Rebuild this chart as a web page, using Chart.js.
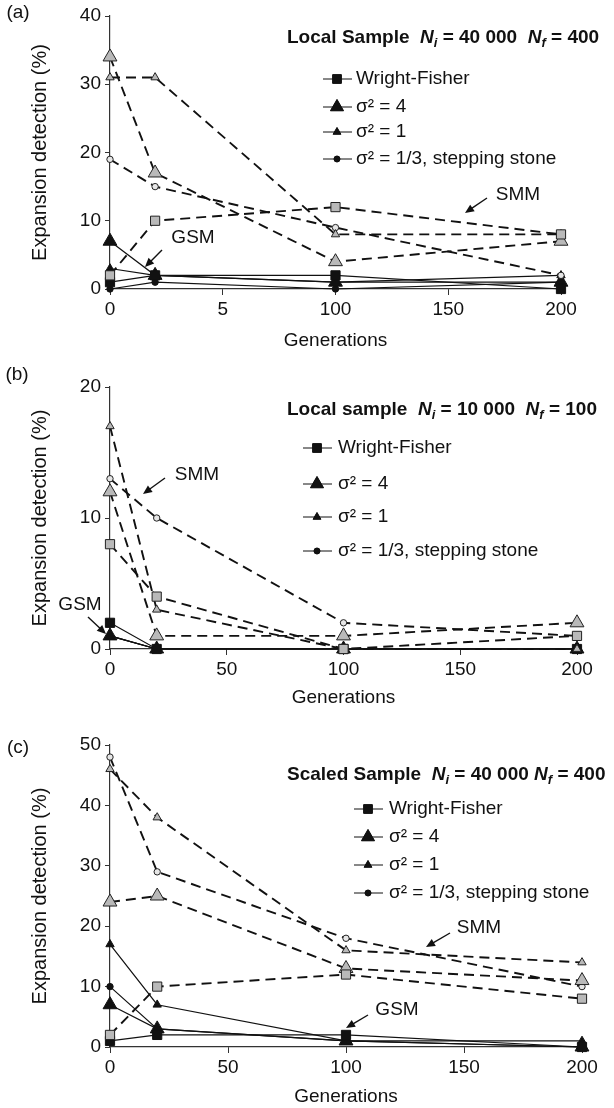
<!DOCTYPE html>
<html>
<head>
<meta charset="utf-8">
<script src="https://cdn.jsdelivr.net/npm/chart.js@4.4.1/dist/chart.umd.min.js"></script>
<style>
  html, body { margin: 0; padding: 0; background: #fff; }
  .panel { position: absolute; left: 0; width: 614px; }
</style>
</head>
<body>
<div class="panel" style="top:0;height:352px"><canvas id="chartA"></canvas></div>
<div class="panel" style="top:352px;height:357px"><canvas id="chartB"></canvas></div>
<div class="panel" style="top:709px;height:399px"><canvas id="chartC"></canvas></div>
<script>
// ======================= DATA =======================

const generations = [0, 20, 100, 200];
const legendLabels = ['Wright-Fisher', 'σ² = 4', 'σ² = 1', 'σ² = 1/3, stepping stone'];

// (a) local sample, Ni = 40 000, Nf = 400
const aWfGsm = [1, 2, 2, 0];
const aS4Gsm = [7, 2, 1, 1];
const aS1Gsm = [3, 2, 1, 2];
const aS13Gsm = [0, 1, 0, 1];
const aWfSmm = [2, 10, 12, 8];
const aS4Smm = [34, 17, 4, 7];
const aS1Smm = [31, 31, 8, 8];
const aS13Smm = [19, 15, 9, 2];

// (b) local sample, Ni = 10 000, Nf = 100
const bWfGsm = [2, 0, 0, 0];
const bS4Gsm = [1, 0, 0, 0];
const bS1Gsm = [1, 0, 0, 0];
const bS13Gsm = [1, 0, 0, 0];
const bWfSmm = [8, 4, 0, 1];
const bS4Smm = [12, 1, 1, 2];
const bS1Smm = [17, 3, 0, 0];
const bS13Smm = [13, 10, 2, 1];

// (c) scaled sample, Ni = 40 000, Nf = 400
const cWfGsm = [1, 2, 2, 0];
const cS4Gsm = [7, 3, 1, 0];
const cS1Gsm = [17, 7, 1, 1];
const cS13Gsm = [10, 3, 1, 0];
const cWfSmm = [2, 10, 12, 8];
const cS4Smm = [24, 25, 13, 11];
const cS1Smm = [46, 38, 16, 14];
const cS13Smm = [48, 29, 18, 10];

// ======================= STYLE =======================

const FONT = '"Liberation Sans", Arial, sans-serif';
const textColor = '#111';
const axisColor = '#333';

const markers = {
  wf: { pointStyle: 'rect', radius: 6.5 },
  s4: { pointStyle: 'triangle', radius: 8 },
  s1: { pointStyle: 'triangle', radius: 4.8 },
  s13: { pointStyle: 'circle', radius: 3.2 }
};
const markerOrder = ['wf', 's4', 's1', 's13'];

function toPoints(values) {
  return values.map((v, i) => ({ x: generations[i], y: v }));
}

function gsmSeries(values, key) {
  const m = markers[key];
  return {
    data: toPoints(values),
    borderColor: '#111',
    borderWidth: 1.2,
    pointStyle: m.pointStyle,
    pointRadius: m.radius,
    pointBackgroundColor: '#111',
    pointBorderColor: '#111',
    pointBorderWidth: 1,
    clip: false
  };
}

function smmSeries(values, key) {
  const m = markers[key];
  return {
    data: toPoints(values),
    borderColor: '#111',
    borderWidth: 1.9,
    borderDash: [10, 6],
    pointStyle: m.pointStyle,
    pointRadius: m.radius,
    pointBackgroundColor: key === 's13' ? '#e6e6e6' : '#b9b9b9',
    pointBorderColor: '#222',
    pointBorderWidth: 1,
    clip: false
  };
}

// ======================= DECORATION PLUGIN =======================

function drawArrow(ctx, x1, y1, x2, y2) {
  const ang = Math.atan2(y2 - y1, x2 - x1);
  const len = 9, half = 4;
  ctx.save();
  ctx.strokeStyle = '#111';
  ctx.fillStyle = '#111';
  ctx.lineWidth = 1.4;
  ctx.beginPath();
  ctx.moveTo(x1, y1);
  ctx.lineTo(x2 - Math.cos(ang) * len * 0.8, y2 - Math.sin(ang) * len * 0.8);
  ctx.stroke();
  ctx.beginPath();
  ctx.moveTo(x2, y2);
  ctx.lineTo(x2 - Math.cos(ang) * len + Math.sin(ang) * half, y2 - Math.sin(ang) * len - Math.cos(ang) * half);
  ctx.lineTo(x2 - Math.cos(ang) * len - Math.sin(ang) * half, y2 - Math.sin(ang) * len + Math.cos(ang) * half);
  ctx.closePath();
  ctx.fill();
  ctx.restore();
}

const decorPlugin = {
  id: 'decor',
  afterDraw(chart, args, opts) {
    const ctx = chart.ctx;
    ctx.save();
    ctx.fillStyle = textColor;
    ctx.textBaseline = 'middle';

    // panel letter
    ctx.font = '19px ' + FONT;
    ctx.textAlign = 'center';
    ctx.fillText(opts.letter, opts.letterPos[0], opts.letterPos[1]);

    // title with sub-scripted N
    ctx.textAlign = 'left';
    let x = opts.titlePos[0];
    opts.title.forEach(p => {
      ctx.font = p.f + ' ' + FONT;
      ctx.fillText(p.t, x, opts.titlePos[1] + (p.dy || 0));
      x += ctx.measureText(p.t).width;
    });

    // legend
    const lg = opts.legend;
    lg.rows.forEach((y, i) => {
      const m = markers[markerOrder[i]];
      ctx.strokeStyle = '#111';
      ctx.lineWidth = 1;
      ctx.beginPath();
      ctx.moveTo(lg.x, y);
      ctx.lineTo(lg.x + 29, y);
      ctx.stroke();
      ctx.fillStyle = '#111';
      Chart.helpers.drawPoint(ctx, {
        pointStyle: m.pointStyle,
        radius: m.radius * 0.95,
        rotation: 0,
        borderWidth: 1
      }, lg.x + 14, y);
      ctx.fill();
      ctx.fillStyle = textColor;
      ctx.font = '19px ' + FONT;
      ctx.fillText(legendLabels[i], lg.x + lg.gap, y);
    });

    // SMM / GSM annotations
    ctx.textAlign = 'center';
    opts.notes.forEach(n => {
      ctx.font = '19px ' + FONT;
      ctx.fillStyle = textColor;
      ctx.fillText(n.text, n.pos[0], n.pos[1]);
      drawArrow(ctx, n.arrow[0], n.arrow[1], n.arrow[2], n.arrow[3]);
    });
    ctx.restore();
  }
};

// ======================= CHART BUILDER =======================

function renderPanel(canvasId, sets, yMax, area, decor, xLabel) {
  const ctx = document.getElementById(canvasId);
  if (!ctx) {
    console.warn(`Canvas element ${canvasId} not found`);
    return null;
  }
  const tickFont = { family: FONT, size: 19 };
  return new Chart(ctx, {
    type: 'line',
    data: {
      datasets: [
        smmSeries(sets.smm[0], 'wf'),
        smmSeries(sets.smm[1], 's4'),
        smmSeries(sets.smm[2], 's1'),
        smmSeries(sets.smm[3], 's13'),
        gsmSeries(sets.gsm[0], 'wf'),
        gsmSeries(sets.gsm[1], 's4'),
        gsmSeries(sets.gsm[2], 's1'),
        gsmSeries(sets.gsm[3], 's13')
      ]
    },
    options: {
      responsive: true,
      maintainAspectRatio: false,
      animation: false,
      layout: { padding: { top: area.top, right: area.right, left: 0, bottom: 0 } },
      plugins: {
        legend: { display: false },
        tooltip: { enabled: false },
        decor: decor
      },
      scales: {
        x: {
          type: 'linear',
          min: 0,
          max: 200,
          ticks: {
            stepSize: 50,
            color: textColor,
            font: tickFont,
            padding: 3,
            maxRotation: 0,
            callback: xLabel || (v => v)
          },
          grid: { drawOnChartArea: false, tickLength: 6, color: axisColor },
          border: { color: axisColor, width: 1.2 },
          title: {
            display: true,
            text: 'Generations',
            color: textColor,
            font: { family: FONT, size: 19 },
            padding: { top: 0, bottom: 0 }
          },
          afterFit: s => { s.height = area.xHeight; }
        },
        y: {
          min: 0,
          max: yMax,
          ticks: { stepSize: 10, color: textColor, font: tickFont, padding: 4 },
          grid: { drawOnChartArea: false, tickLength: 5, color: axisColor },
          border: { color: axisColor, width: 1.2 },
          title: {
            display: true,
            text: 'Expansion detection (%)',
            color: textColor,
            font: { family: FONT, size: 20 },
            padding: { top: 28, bottom: 0 }
          },
          afterFit: s => { s.width = 110; }
        }
      }
    },
    plugins: [decorPlugin]
  });
}

const B = 'bold 19px', BI = 'italic bold 19px', SUB = 'italic bold 13px';

renderPanel('chartA',
  { gsm: [aWfGsm, aS4Gsm, aS1Gsm, aS13Gsm], smm: [aWfSmm, aS4Smm, aS1Smm, aS13Smm] },
  40,
  { top: 16, right: 53, xHeight: 63 },
  {
    letter: '(a)', letterPos: [18, 13],
    titlePos: [287, 38],
    title: [
      { t: 'Local Sample  ', f: B }, { t: 'N', f: BI }, { t: 'i', f: SUB, dy: 5 },
      { t: ' = 40 000  ', f: B }, { t: 'N', f: BI }, { t: 'f', f: SUB, dy: 5 }, { t: ' = 400', f: B }
    ],
    legend: { x: 323, gap: 33, rows: [79, 107, 132, 159] },
    notes: [
      { text: 'SMM', pos: [518, 195], arrow: [487, 198, 465, 213] },
      { text: 'GSM', pos: [193, 238], arrow: [162, 250, 145, 267] }
    ]
  },
  v => (v === 50 ? '5' : v)
);

renderPanel('chartB',
  { gsm: [bWfGsm, bS4Gsm, bS1Gsm, bS13Gsm], smm: [bWfSmm, bS4Smm, bS1Smm, bS13Smm] },
  20,
  { top: 35, right: 37, xHeight: 60 },
  {
    letter: '(b)', letterPos: [17, 23],
    titlePos: [287, 58],
    title: [
      { t: 'Local sample  ', f: B }, { t: 'N', f: BI }, { t: 'i', f: SUB, dy: 5 },
      { t: ' = 10 000  ', f: B }, { t: 'N', f: BI }, { t: 'f', f: SUB, dy: 5 }, { t: ' = 100', f: B }
    ],
    legend: { x: 303, gap: 35, rows: [96, 132, 165, 199] },
    notes: [
      { text: 'SMM', pos: [197, 123], arrow: [165, 126, 143, 142] },
      { text: 'GSM', pos: [80, 253], arrow: [88, 265, 106, 282] }
    ]
  }
);

renderPanel('chartC',
  { gsm: [cWfGsm, cS4Gsm, cS1Gsm, cS13Gsm], smm: [cWfSmm, cS4Smm, cS1Smm, cS13Smm] },
  50,
  { top: 36, right: 32, xHeight: 61 },
  {
    letter: '(c)', letterPos: [18, 39],
    titlePos: [287, 66],
    title: [
      { t: 'Scaled Sample  ', f: B }, { t: 'N', f: BI }, { t: 'i', f: SUB, dy: 5 },
      { t: ' = 40 000 ', f: B }, { t: 'N', f: BI }, { t: 'f', f: SUB, dy: 5 }, { t: ' = 400', f: B }
    ],
    legend: { x: 354, gap: 35, rows: [100, 128, 156, 184] },
    notes: [
      { text: 'SMM', pos: [479, 219], arrow: [450, 224, 426, 238] },
      { text: 'GSM', pos: [397, 301], arrow: [368, 306, 346, 319] }
    ]
  }
);
</script>
</body>
</html>
